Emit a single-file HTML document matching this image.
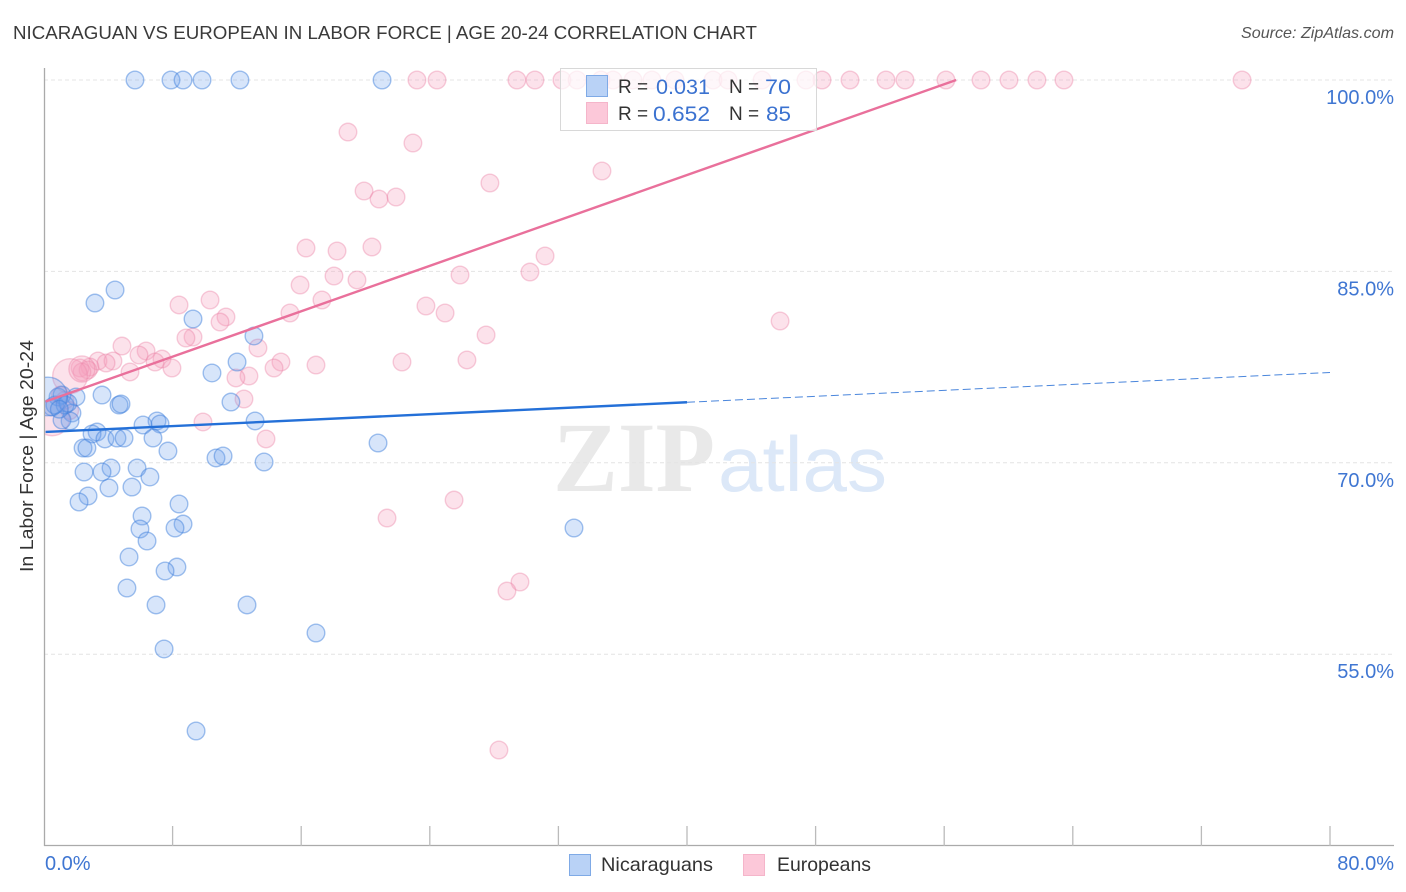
<!DOCTYPE html>
<html lang="en">
<head>
<meta charset="utf-8">
<title>Nicaraguan vs European in Labor Force | Age 20-24 Correlation Chart</title>
<style>
html,body{margin:0;padding:0;background:#fff;width:1406px;height:892px;overflow:hidden}
svg{display:block;font-family:"Liberation Sans",sans-serif}
</style>
</head>
<body>
<svg id="chart" width="1406" height="892" viewBox="0 0 1406 892" xmlns="http://www.w3.org/2000/svg">
  <defs><clipPath id="plot-clip"><rect x="45" y="60" width="1350" height="786"/></clipPath></defs>
  <text x="13" y="39" font-size="18.5" fill="#3a3a3a" textLength="744" lengthAdjust="spacingAndGlyphs">NICARAGUAN VS EUROPEAN IN LABOR FORCE | AGE 20-24 CORRELATION CHART</text>
  <text x="1394" y="38" font-size="16" font-style="italic" fill="#555" text-anchor="end" textLength="153" lengthAdjust="spacingAndGlyphs">Source: ZipAtlas.com</text>
  <g>
    <text x="553" y="491" font-family="'Liberation Serif',serif" font-size="100" font-weight="bold" fill="#e9e9e9" textLength="162" lengthAdjust="spacingAndGlyphs">ZIP</text>
    <text x="718" y="491" font-size="78" fill="#dce8f8" textLength="169" lengthAdjust="spacingAndGlyphs">atlas</text>
  </g>
  <g id="grid"></g>
  <g id="axes"></g>
  <g id="points" clip-path="url(#plot-clip)"></g>
  <g id="trends"></g>
  <g>
    <rect x="560.5" y="68.5" width="256" height="62" fill="#fff" fill-opacity="0.72" stroke="#d8d8d8"/>
    <rect x="586.5" y="75.5" width="21" height="21" fill="#b9d2f6" stroke="#7faae6"/>
    <text x="618" y="93" font-size="19" fill="#333">R =</text>
    <text x="656" y="94" font-size="21" fill="#3b72d0" textLength="54" lengthAdjust="spacingAndGlyphs">0.031</text>
    <text x="729" y="93" font-size="19" fill="#333">N =</text>
    <text x="765" y="94" font-size="21" fill="#3b72d0" textLength="26" lengthAdjust="spacingAndGlyphs">70</text>
    <rect x="586.5" y="102.5" width="21" height="21" fill="#fcc8d9" stroke="#f5b5ca"/>
    <text x="618" y="120" font-size="19" fill="#333">R =</text>
    <text x="653" y="121" font-size="21" fill="#3b72d0" textLength="57" lengthAdjust="spacingAndGlyphs">0.652</text>
    <text x="729" y="120" font-size="19" fill="#333">N =</text>
    <text x="766" y="121" font-size="21" fill="#3b72d0" textLength="25" lengthAdjust="spacingAndGlyphs">85</text>
  </g>
  <g>
    <g>
      <rect x="569.5" y="854.5" width="21" height="21" fill="#b9d2f6" stroke="#7faae6"/>
      <text x="601" y="871" font-size="19.5" fill="#333" textLength="112" lengthAdjust="spacingAndGlyphs">Nicaraguans</text>
    </g>
    <g>
      <rect x="743.5" y="854.5" width="21" height="21" fill="#fcc8d9" stroke="#f5b5ca"/>
      <text x="777" y="871" font-size="19.5" fill="#333" textLength="94" lengthAdjust="spacingAndGlyphs">Europeans</text>
    </g>
  </g>
  <text x="0" y="0" font-size="18.5" fill="#333" text-anchor="middle" transform="translate(33,456) rotate(-90)" textLength="232" lengthAdjust="spacingAndGlyphs">In Labor Force | Age 20-24</text>
</svg>
<script>
const nicaraguanX = [5.66,7.90,8.65,9.83,12.19,21.03,4.42,3.17,9.27,13.06,12.01,10.45,3.61,1.99,4.67,4.79,11.63,13.13,7.03,7.22,6.16,1.74,1.62,1.12,3.30,2.99,3.79,4.54,4.98,6.78,2.43,2.67,7.71,20.78,10.70,11.14,13.69,4.17,5.79,2.49,3.61,6.59,4.04,5.47,2.74,2.18,8.40,6.10,8.65,8.15,5.97,32.97,6.41,5.29,8.27,7.53,5.16,6.97,12.63,16.92,7.47,9.46,0.50,0.87,1.12,0.68,1.31,1.49,0.25,0.95];
const nicaraguanY = [100,100,100,100,100,100,83.54,82.52,81.27,79.94,77.90,77.04,75.31,75.16,74.53,74.61,74.76,73.28,73.28,73.04,72.96,73.90,73.28,73.35,72.41,72.26,71.87,71.94,71.94,71.94,71.16,71.16,70.92,71.55,70.38,70.53,70.06,69.59,69.59,69.28,69.28,68.89,68.03,68.10,67.40,66.93,66.77,65.83,65.20,64.89,64.81,64.89,63.87,62.62,61.83,61.52,60.19,58.86,58.86,56.66,55.41,48.98,74.37,75.16,75.31,74.53,74.53,74.69,75.20,74.20];
const nicaraguanWeight = [1,1,1,1,1,1,1,1,1,1,1,1,1,1,1,1,1,1,1,1,1,1,1,1,1,1,1,1,1,1,1,1,1,1,1,1,1,1,1,1,1,1,1,1,1,1,1,1,1,1,1,1,1,1,1,1,1,1,1,1,1,1,1,1,1,1,1,1,4.8,1];
const europeanX = [23.20,24.45,29.42,30.54,32.22,33.16,34.65,35.40,36.64,37.82,39.25,41.62,42.55,44.67,47.40,48.40,50.14,52.38,53.56,56.11,58.29,60.03,61.77,63.45,74.53,18.91,22.95,34.71,27.74,19.91,20.84,21.90,16.30,18.23,20.40,31.17,30.23,25.88,18.04,19.47,15.93,10.33,17.29,8.40,15.30,23.76,24.95,11.32,10.95,45.79,27.50,9.27,8.83,13.31,4.85,6.35,5.91,7.34,6.91,3.36,4.29,3.86,22.27,26.31,16.92,14.74,14.31,7.96,5.35,2.86,2.24,2.74,12.75,11.94,2.36,12.44,9.89,13.81,25.51,21.34,29.61,28.80,28.30,1.62,2.36,0.50,1.00,1.30,1.60];
const europeanY = [100,100,100,100,100,100,100,100,100,100,100,100,100,100,100,100,100,100,100,100,100,100,100,100,100,95.92,95.06,92.87,91.93,91.30,90.67,90.83,86.83,86.60,86.91,86.21,84.95,84.72,84.64,84.33,83.93,82.76,82.76,82.37,81.74,82.29,81.74,81.43,81.03,81.11,80.02,79.86,79.78,79.00,79.15,78.76,78.45,78.13,77.90,77.98,77.98,77.82,77.90,78.06,77.66,77.90,77.43,77.43,77.12,77.51,77.43,77.27,76.80,76.65,77.12,75.00,73.20,71.87,67.08,65.67,60.66,59.95,47.49,76.80,77.35,73.50,75.30,74.90,74.10];
const europeanWeight = [1,1,1,1,1,1,1,1,1,1,1,1,1,1,1,1,1,1,1,1,1,1,1,1,1,1,1,1,1,1,1,1,1,1,1,1,1,1,1,1,1,1,1,1,1,1,1,1,1,1,1,1,1,1,1,1,1,1,1,1,1,1,1,1,1,1,1,1,1,1,1,1,1,1,1,1,1,1,1,1,1,1,1,3.9,2.2,4,1,1,1];
const nicaraguanTrendStart = 72.41;
const nicaraguanTrendEnd = 77.08;
const nicaraguanTrendSolidUntil = 40;
const europeanTrendStart = 74.76;
const europeanTrendSlope = 0.4448;
const xTicks = [0,8,16,24,32,40,48,56,64,72,80];
const xTickLabels = ["0.0%","80.0%"];
const yTicks = [100,85,70,55];
const yTickLabels = ["100.0%","85.0%","70.0%","55.0%"];

const NS = "http://www.w3.org/2000/svg";
const xScale = v => 44 + v * 16.075;
const yScale = v => 80 + (100 - v) * 12.76;
const radius = w => 8.8 * Math.sqrt(w);
function make(parent, tag, attrs, text) {
  const el = document.createElementNS(NS, tag);
  for (const k in attrs) el.setAttribute(k, attrs[k]);
  if (text !== undefined) el.textContent = text;
  parent.appendChild(el);
  return el;
}
const grid = document.getElementById("grid");
const axes = document.getElementById("axes");
const points = document.getElementById("points");
const trends = document.getElementById("trends");

yTicks.forEach((t, i) => {
  const line = make(grid, "line", {x1: 44, x2: 1394, y1: yScale(t), y2: yScale(t), stroke: "#e4e4e4", "stroke-width": 1, "stroke-dasharray": "4 3"});
  
  
  const label = make(axes, "text", {x: 1394, y: yScale(t) + 24, "font-size": 20, fill: "#3f76d2", "text-anchor": "end"}, yTickLabels[i]);
  
  
});
const yAxis = make(axes, "line", {x1: 44.5, x2: 44.5, y1: 68, y2: 846, stroke: "#aaa", "stroke-width": 1.3});


const xAxis = make(axes, "line", {x1: 44, x2: 1394, y1: 845.5, y2: 845.5, stroke: "#aaa", "stroke-width": 1.3});


xTicks.forEach(t => {
  if (t === 0) return;
  const tick = make(axes, "line", {x1: xScale(t), x2: xScale(t), y1: 826, y2: 846, stroke: "#bbb", "stroke-width": 1.3});
  
  
});
const xLabelLeft = make(axes, "text", {x: 45, y: 870, "font-size": 20, fill: "#3f76d2"}, xTickLabels[0]);


const xLabelRight = make(axes, "text", {x: 1394, y: 870, "font-size": 20, fill: "#3f76d2", "text-anchor": "end"}, xTickLabels[1]);



europeanX.forEach((x, i) => {
  const c = make(points, "circle", {cx: xScale(x), cy: yScale(europeanY[i]), r: radius(europeanWeight[i]), fill: "#f5a0bd", "fill-opacity": 0.3, stroke: "#ea7fa4", "stroke-opacity": 0.38, "stroke-width": 1.4});
  
  
});
nicaraguanX.forEach((x, i) => {
  const c = make(points, "circle", {cx: xScale(x), cy: yScale(nicaraguanY[i]), r: radius(nicaraguanWeight[i]), fill: "#6fa3ee", "fill-opacity": 0.28, stroke: "#3f80dc", "stroke-opacity": 0.48, "stroke-width": 1.4});
  
  
});

const europeanEndX = (100 - europeanTrendStart) / europeanTrendSlope;
const pinkLine = make(trends, "line", {x1: xScale(0.1), y1: yScale(europeanTrendStart + 0.1 * europeanTrendSlope), x2: xScale(europeanEndX), y2: yScale(100), stroke: "#e9709b", "stroke-width": 2.4});


const blueAt = x => nicaraguanTrendStart + (nicaraguanTrendEnd - nicaraguanTrendStart) * x / 80;
const blueSolid = make(trends, "line", {x1: xScale(0.1), y1: yScale(blueAt(0.1)), x2: xScale(nicaraguanTrendSolidUntil), y2: yScale(blueAt(nicaraguanTrendSolidUntil)), stroke: "#2470d8", "stroke-width": 2.4});


const blueDash = make(trends, "line", {x1: xScale(nicaraguanTrendSolidUntil), y1: yScale(blueAt(nicaraguanTrendSolidUntil)), x2: xScale(80), y2: yScale(blueAt(80)), stroke: "#4a86dc", "stroke-width": 1, "stroke-dasharray": "8 4"});


</script>
</body>
</html>
